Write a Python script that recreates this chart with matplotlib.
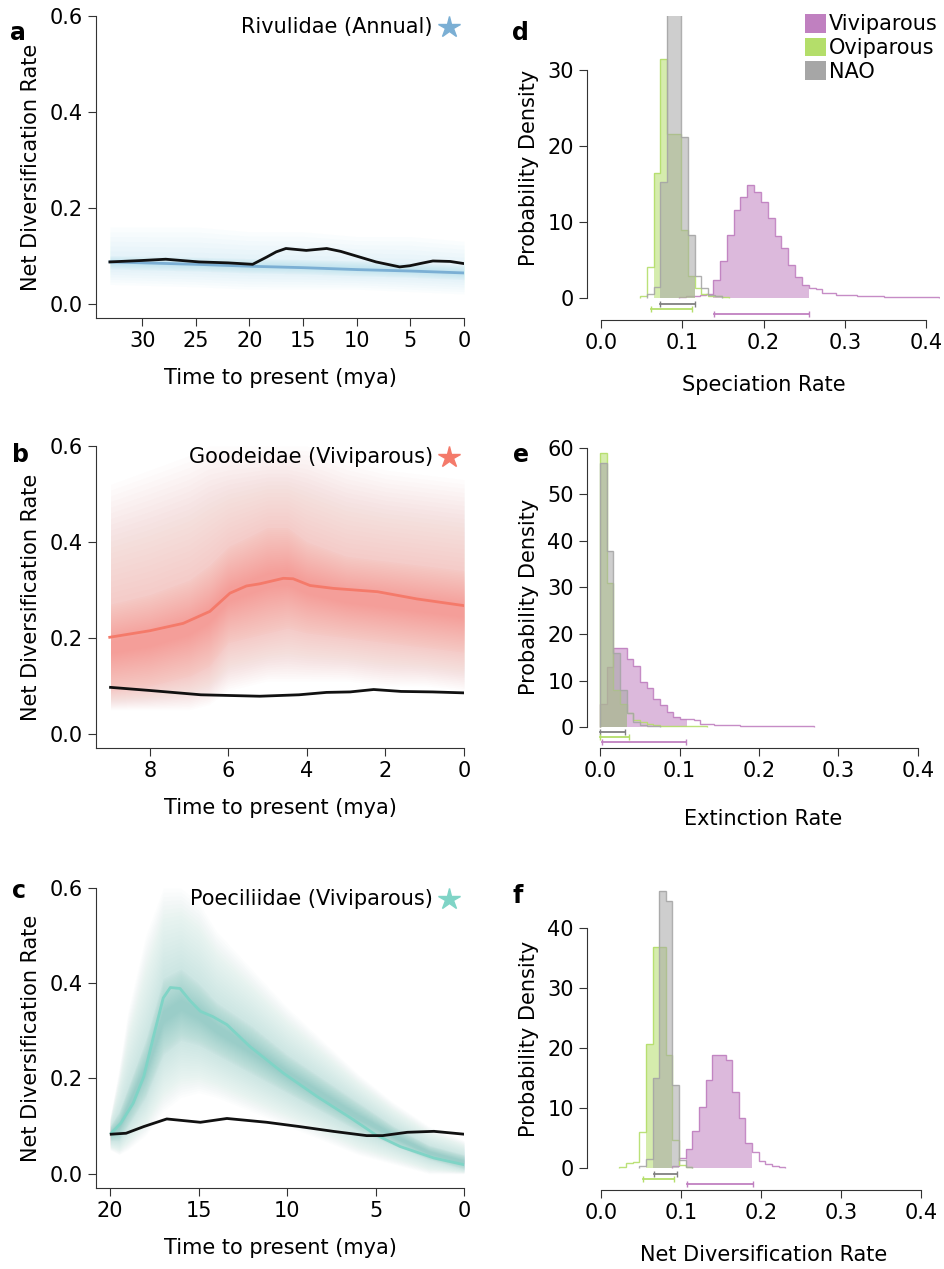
import numpy as np
import matplotlib
matplotlib.use("Agg")
import matplotlib.pyplot as plt
from matplotlib.patches import Patch

plt.rcParams['font.family'] = ['DejaVu Sans']
plt.rcParams['font.size'] = 15

# ---------------- left panels: rate through time ----------------
# a  Rivulidae
a_t_black = [33, 30, 27.8, 24.7, 22, 19.7, 18.4, 17.5, 16.6, 14.7, 12.8, 11.5, 10.3, 8.2, 6.0, 5.05, 4, 2.9, 1.3, 0]
a_black = [0.087, 0.090, 0.0926, 0.087, 0.085, 0.082, 0.097, 0.108, 0.115, 0.111, 0.115, 0.109, 0.101,
           0.087, 0.0766, 0.079, 0.084, 0.089, 0.088, 0.0835]
a_t = [33, 25, 20, 15, 10, 5, 0]
a_mean = [0.087, 0.082, 0.078, 0.075, 0.071, 0.068, 0.064]
a_lo95 = [0.04, 0.035, 0.03, 0.03, 0.03, 0.025, 0.02]
a_lo50 = [0.072, 0.068, 0.064, 0.062, 0.058, 0.055, 0.05]
a_hi50 = [0.10, 0.097, 0.094, 0.092, 0.089, 0.085, 0.08]
a_hi95 = [0.16, 0.16, 0.15, 0.15, 0.14, 0.14, 0.13]

# b  Goodeidae
b_t = [9.02, 8.0, 7.15, 6.47, 5.96, 5.54, 5.2, 4.6, 4.35, 3.92, 3.33, 2.2, 1.2, 0]
b_mean = [0.201, 0.2146, 0.23, 0.255, 0.293, 0.308, 0.3125, 0.324, 0.323, 0.309, 0.303, 0.296, 0.281, 0.267]
b_t_black = [9.0, 8.0, 6.7, 5.2, 4.2, 3.5, 2.9, 2.3, 1.6, 0.8, 0]
b_black = [0.0965, 0.09, 0.081, 0.078, 0.081, 0.086, 0.087, 0.092, 0.088, 0.087, 0.085]
b_tc = [9, 8, 7, 6.5, 6, 5, 4.5, 4, 3, 2, 1, 0]
b_lo95 = [0.05, 0.05, 0.05, 0.06, 0.09, 0.11, 0.11, 0.11, 0.11, 0.10, 0.10, 0.09]
b_lo50 = [0.09, 0.10, 0.12, 0.14, 0.19, 0.21, 0.22, 0.21, 0.20, 0.19, 0.18, 0.17]
b_hi50 = [0.27, 0.29, 0.32, 0.35, 0.39, 0.43, 0.43, 0.40, 0.37, 0.36, 0.35, 0.34]
b_hi95 = [0.52, 0.55, 0.58, 0.60, 0.60, 0.60, 0.60, 0.60, 0.57, 0.55, 0.54, 0.53]

# c  Poeciliidae
c_t = [19.94, 19.4, 18.7, 18.1, 17.55, 17.0, 16.6, 16.05, 15.5, 14.9, 14.2, 13.4, 12.1, 10.2, 8.3, 6.4, 5.0, 3.6, 1.7, 0]
c_mean = [0.085, 0.106, 0.148, 0.204, 0.288, 0.369, 0.391, 0.389, 0.364, 0.341, 0.33, 0.313, 0.267, 0.211,
          0.162, 0.117, 0.082, 0.057, 0.033, 0.019]
c_t_black = [19.94, 19.1, 18.1, 16.8, 14.9, 13.4, 11.15, 9.3, 7.4, 5.5, 4.6, 3.2, 1.7, 0]
c_black = [0.083, 0.085, 0.099, 0.115, 0.108, 0.116, 0.108, 0.099, 0.089, 0.080, 0.080, 0.087, 0.089, 0.083]
c_tc = [20, 19.5, 19, 18, 17, 16, 15, 14, 12, 10, 8, 6, 4, 2, 0]
c_lo95 = [0.05, 0.04, 0.05, 0.08, 0.13, 0.16, 0.17, 0.16, 0.13, 0.10, 0.07, 0.04, 0.02, 0.0, 0.0]
c_lo50 = [0.07, 0.07, 0.10, 0.16, 0.25, 0.28, 0.27, 0.25, 0.21, 0.17, 0.13, 0.09, 0.06, 0.03, 0.01]
c_hi50 = [0.10, 0.13, 0.18, 0.28, 0.41, 0.43, 0.40, 0.36, 0.31, 0.25, 0.20, 0.15, 0.10, 0.06, 0.04]
c_hi95 = [0.12, 0.22, 0.34, 0.50, 0.60, 0.60, 0.57, 0.51, 0.43, 0.35, 0.28, 0.21, 0.15, 0.10, 0.07]

# ---------------- right panels: posterior rate histograms ----------------
colors = {'Viviparous': '#c080c0', 'Oviparous': '#b4de6a', 'NAO': '#a6a6a6'}
hpd_colors = {'Viviparous': '#c080c0', 'Oviparous': '#b4de6a', 'NAO': '#808080'}

# d speciation  (start, bin width, densities, hpd)
d_hist = {
    'Viviparous': (0.0960, 0.0084,
                   [0.1, 0.2, 0.3, 0.4, 0.5,
                    2.4, 4.8, 8.3, 11.6, 13.3, 14.9, 14.0, 12.6, 10.5, 8.1, 6.6, 4.3, 2.8, 1.7,
                    1.3, 1.2, 0.65, 0.6, 0.45, 0.4, 0.35, 0.3, 0.25, 0.22, 0.2, 0.18, 0.16, 0.14,
                    0.12, 0.1, 0.09, 0.08, 0.07], (0.139, 0.256)),
    'Oviparous': (0.0480, 0.0084,
                  [0.3, 4.1, 16.5, 31.4, 21.6, 21.6, 9.0, 2.9, 1.3, 0.5, 0.3, 0.2, 0.1], (0.061, 0.1115)),
    'NAO': (0.0564, 0.0084,
            [0.5, 1.5, 15.3, 38, 38, 21.2, 8.3, 2.9, 1.3, 0.4, 0.2], (0.0726, 0.1155)),
}
# e extinction
e_hist = {
    'Viviparous': (0.0, 0.0084,
                   [4.9, 13, 17, 17, 14.6, 13.1, 9.7, 8.4, 6.0, 4.7, 3.3, 2.1, 1.7,
                    1.7, 1.5, 0.6, 0.6, 0.35, 0.35, 0.35, 0.35, 0.3, 0.25, 0.2, 0.2, 0.2, 0.2,
                    0.2, 0.2, 0.15, 0.15, 0.15], (0.003, 0.108)),
    'Oviparous': (0.0, 0.0084,
                  [58.9, 31, 8, 5, 3, 1.5, 1, 0.6, 0.4, 0.3, 0.3, 0.2, 0.2, 0.2, 0.2, 0.2], (0.0, 0.037)),
    'NAO': (0.0, 0.0084,
            [56.8, 37.8, 16, 8, 3, 1, 0.5, 0.3, 0.2], (0.0, 0.032)),
}
# f net diversification
f_hist = {
    'Viviparous': (0.0894, 0.0083,
                   [0.3, 1.6, 3.2, 6.2, 10.2, 14.7, 18.8, 18.8, 18.0, 12.7, 8.3, 4.2, 2.7, 1.1,
                    0.6, 0.3, 0.1], (0.108, 0.19)),
    'Oviparous': (0.0230, 0.0083,
                  [0.1, 0.8, 1.0, 6.0, 20.7, 36.8, 36.8, 18.8, 4.7, 0.5, 0.2], (0.053, 0.091)),
    'NAO': (0.0479, 0.0083,
            [0.3, 1.5, 15, 46.2, 44.5, 13.9, 1.4, 0.2], (0.0667, 0.095)),
}

W, H = 945, 1269
fig = plt.figure(figsize=(W / 100, H / 100), dpi=100)


def box(left, top, right, bottom):
    return [left / W, 1 - bottom / H, (right - left) / W, (bottom - top) / H]


def cloud(ax, t, lo95, lo50, hi50, hi95, color, n=22, alpha=0.02):
    # soft posterior "cloud": stacked translucent bands from the 95% to the 50% range and inward
    lo95, lo50, hi50, hi95 = map(np.asarray, (lo95, lo50, hi50, hi95))
    for f in np.linspace(0, 1, n):
        ax.fill_between(t, lo95 + f * (lo50 - lo95), hi95 + f * (hi50 - hi95),
                        color=color, alpha=alpha * 0.7, lw=0)
    mid = (lo50 + hi50) / 2
    for f in np.linspace(0, 0.85, n):
        ax.fill_between(t, lo50 + f * (mid - lo50), hi50 + f * (mid - hi50),
                        color=color, alpha=alpha, lw=0)


def style_left(ax, xmax, ticks):
    ax.set_xlim(xmax, 0)
    ax.set_ylim(-0.03, 0.6)
    ax.set_xticks(ticks)
    ax.set_yticks([0, 0.2, 0.4, 0.6])
    ax.set_yticklabels(['0.0', '0.2', '0.4', '0.6'])
    for s in ['top', 'right']:
        ax.spines[s].set_visible(False)
    for s in ['left', 'bottom']:
        ax.spines[s].set_color('#333333')
    ax.tick_params(length=6, color='#333333', labelsize=15)
    ax.set_xlabel('Time to present (mya)', fontsize=15, labelpad=12)
    ax.set_ylabel('Net Diversification Rate', fontsize=15, labelpad=6)


left_specs = [
    ('Rivulidae (Annual)', '#7bafd4', '#6ccbdb', 7, 0.04, box(96, 16, 464, 318), 34.3, [30, 25, 20, 15, 10, 5, 0],
     a_t, a_mean, a_t_black, a_black, (a_t, a_lo95, a_lo50, a_hi50, a_hi95)),
    ('Goodeidae (Viviparous)', '#f47a6a', '#f4665c', 22, 0.02, box(96, 446, 464, 748), 9.37, [8, 6, 4, 2, 0],
     b_t, b_mean, b_t_black, b_black, (b_tc, b_lo95, b_lo50, b_hi50, b_hi95)),
    ('Poeciliidae (Viviparous)', '#7fd4c6', '#3fa39c', 22, 0.016, box(96, 888, 464, 1188), 20.8, [20, 15, 10, 5, 0],
     c_t, c_mean, c_t_black, c_black, (c_tc, c_lo95, c_lo50, c_hi50, c_hi95)),
]

for title, lc, cc, cn, ca, pos, xmax, ticks, t, m, tb, yb, env in left_specs:
    ax = fig.add_axes(pos)
    cloud(ax, *env, color=cc, n=cn, alpha=ca)
    ax.plot(t, m, color=lc, lw=2, zorder=5)
    ax.plot(tb, yb, color='#111111', lw=2, zorder=6)
    style_left(ax, xmax, ticks)
    ax.text(0.915, 0.963, title, transform=ax.transAxes, ha='right', va='center', fontsize=15)
    ax.plot([0.958], [0.963], marker='*', ms=16, color=lc, transform=ax.transAxes, clip_on=False)

# right panels
right_specs = [
    (d_hist, box(587, 16, 940, 320), (-0.0172, 0.417), (-2.9, 37.1), [0, 10, 20, 30],
     'Speciation Rate', 16, [-0.8, -1.5, -2.1]),
    (e_hist, box(587, 446, 940, 748), (-0.0164, 0.4277), (-4.5, 60.4), [0, 10, 20, 30, 40, 50, 60],
     'Extinction Rate', 20, [-1.1, -2.2, -3.3]),
    (f_hist, box(587, 888, 940, 1190), (-0.0175, 0.424), (-3.67, 46.7), [0, 10, 20, 30, 40],
     'Net Diversification Rate', 16, [-0.95, -1.8, -2.7]),
]

order = ['Viviparous', 'Oviparous', 'NAO']
for hist, pos, xl, yl, yticks, xlabel, lpad, bar_y in right_specs:
    ax = fig.add_axes(pos)
    for g in order:
        start, w, dens, (lo, hi) = hist[g]
        dens = np.asarray(dens, dtype=float)
        edges = start + w * np.arange(len(dens) + 1)
        centers = (edges[:-1] + edges[1:]) / 2
        inside = (centers >= lo) & (centers <= hi)
        fill_vals = np.where(inside, dens, 0)
        ax.stairs(fill_vals, edges, fill=True, color=colors[g], alpha=0.55, lw=0)
        ax.stairs(dens, edges, color=colors[g], lw=1, alpha=0.9)
    # HPD bars
    for g, y in zip(['NAO', 'Oviparous', 'Viviparous'], bar_y):
        lo, hi = hist[g][3]
        ax.plot([lo, hi], [y, y], color=hpd_colors[g], lw=1.3, marker='|', ms=4, mew=1)
    ax.set_xlim(*xl)
    ax.set_ylim(*yl)
    ax.set_xticks([0, 0.1, 0.2, 0.3, 0.4])
    ax.set_xticklabels(['0.0', '0.1', '0.2', '0.3', '0.4'])
    ax.set_yticks(yticks)
    for s in ['top', 'right']:
        ax.spines[s].set_visible(False)
    for s in ['left', 'bottom']:
        ax.spines[s].set_color('#333333')
    ax.spines['left'].set_bounds(0, yticks[-1])
    ax.spines['bottom'].set_bounds(0, 0.4)
    ax.tick_params(length=6, color='#333333', labelsize=15)
    ax.set_xlabel(xlabel, fontsize=15, labelpad=lpad)
    ax.set_ylabel('Probability Density', fontsize=15, labelpad=6)
    if hist is d_hist:
        handles = [Patch(facecolor=colors[g], edgecolor='none', label=g) for g in order]
        ax.legend(handles=handles, loc='upper left', bbox_to_anchor=(805 / W, 1 - 14 / H),
                  bbox_transform=fig.transFigure, frameon=False, fontsize=15,
                  handlelength=1.0, handleheight=1.0, handletextpad=0.15,
                  labelspacing=0.15, borderpad=0, borderaxespad=0)

# panel letters
for letter, px, py in [('a', 10, 40), ('b', 12, 462), ('c', 12, 898),
                       ('d', 512, 40), ('e', 513, 462), ('f', 513, 903)]:
    fig.text(px / W, 1 - py / H, letter, fontsize=17, fontweight='bold', ha='left', va='baseline')

fig.savefig('out.png', dpi=100)
